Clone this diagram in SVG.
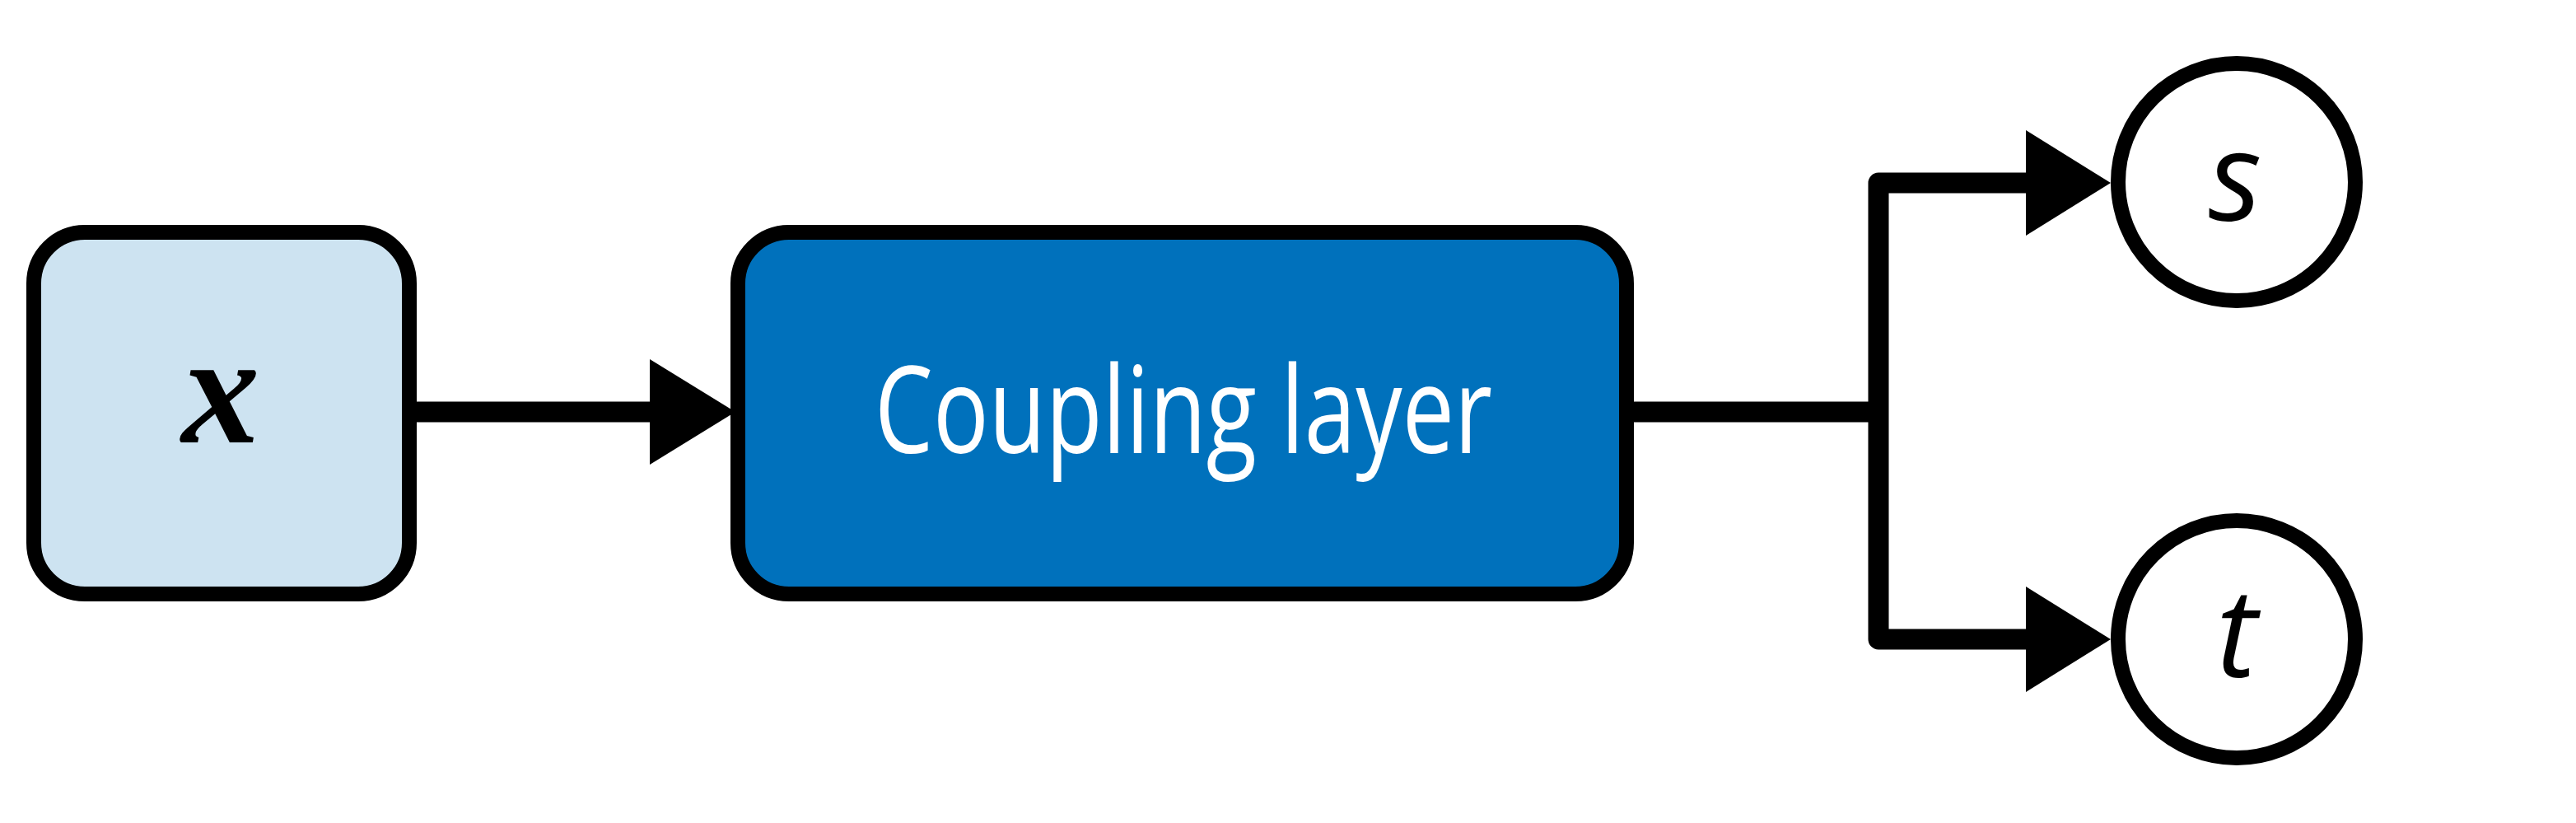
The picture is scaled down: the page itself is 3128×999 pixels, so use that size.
<svg xmlns="http://www.w3.org/2000/svg" width="3128" height="999" viewBox="0 0 3128 999">
<style>
.box{stroke:#000;stroke-width:18}
.conn{fill:none;stroke:#000;stroke-width:25;stroke-linejoin:round}
.circ{fill:#fff;stroke:#000;stroke-width:18}
.head{fill:#000}
</style>
<defs>
<marker id="ah" markerUnits="userSpaceOnUse" markerWidth="110" markerHeight="130" refX="0" refY="64" orient="auto" viewBox="0 0 110 130">
<path d="M0,0 L104,64 L0,128 Z" fill="#000"/>
</marker>
</defs>
<rect width="3128" height="999" fill="#fff"/>
<g id="connectors">
<path class="conn" d="M497,500 H789" marker-end="url(#ah)"/>
<path class="conn" d="M1975,500 H2281"/>
<path class="conn" d="M2460,222 H2281 V776 H2460"/>
<path class="head" d="M2460,158 L2563,222 L2460,286 Z"/>
<path class="head" d="M2460,712 L2563,776 L2460,840 Z"/>
</g>
<g id="node-x">
<rect class="box" x="41" y="282" width="456" height="439" rx="62" fill="#cde3f1"/>
<text x="268" y="537" font-family="Liberation Serif, serif" font-style="italic" font-weight="bold" font-size="190" text-anchor="middle">x</text>
</g>
<g id="node-coupling">
<rect class="box" x="896" y="282" width="1079" height="439" rx="62" fill="#0071bc"/>
<text x="1437" y="550" font-family="Open Sans, sans-serif" font-weight="500" font-size="146" fill="#fff" text-anchor="middle" textLength="750" lengthAdjust="spacingAndGlyphs">Coupling layer</text>
</g>
<g id="node-s">
<circle class="circ" cx="2716" cy="221" r="144"/>
<text x="2714" y="268" font-family="Open Sans, sans-serif" font-style="italic" font-size="150" text-anchor="middle">s</text>
</g>
<g id="node-t">
<circle class="circ" cx="2716" cy="776" r="144"/>
<text x="2716" y="822" font-family="Open Sans, sans-serif" font-style="italic" font-size="150" text-anchor="middle">t</text>
</g>
</svg>
